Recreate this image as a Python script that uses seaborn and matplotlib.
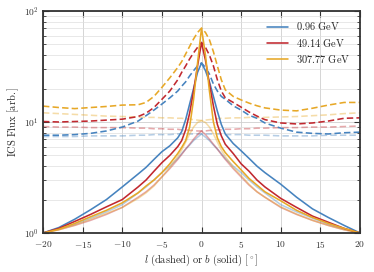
import numpy as np
import pandas as pd
import matplotlib
matplotlib.use("Agg")
import matplotlib.pyplot as plt
import seaborn as sns
from matplotlib.ticker import FixedLocator, FuncFormatter, LogLocator, NullFormatter

# ---- data ----
angle = [-20, -18, -16, -14, -12, -10, -8, -7, -6, -5, -4, -3, -2.5, -2, -1.5, -1, -0.5, 0,
         0.5, 1, 1.5, 2, 2.5, 3, 4, 5, 6, 7, 8, 10, 12, 14, 16, 18, 20]

energies = ["0.96 GeV", "49.14 GeV", "307.77 GeV"]

# dark curves: profile along b (solid)
blue_b = [1.0, 1.12, 1.33, 1.62, 2.0, 2.6, 3.4, 3.9, 4.6, 5.4, 6.1, 7.2, 8.2, 10.5, 14.5, 20, 28, 34,
          29, 23, 17, 12.5, 9.5, 7.8, 6.4, 5.5, 4.7, 4.0, 3.5, 2.75, 2.1, 1.65, 1.38, 1.17, 1.0]
red_b = [1.0, 1.1, 1.27, 1.47, 1.72, 2.0, 2.6, 3.0, 3.6, 4.3, 5.0, 6.0, 6.8, 8.5, 12, 19, 32, 52,
         36, 22, 14, 9.5, 7.5, 6.3, 5.2, 4.2, 3.6, 3.0, 2.6, 2.05, 1.7, 1.42, 1.25, 1.1, 1.0]
gold_b = [1.0, 1.08, 1.22, 1.4, 1.6, 1.87, 2.3, 2.65, 3.0, 3.5, 4.2, 5.2, 5.9, 6.8, 9, 16, 34, 70,
          40, 19, 10, 7.2, 6.0, 5.3, 4.4, 3.7, 3.1, 2.7, 2.35, 1.95, 1.6, 1.38, 1.22, 1.1, 1.0]

# dark curves: profile along l (dashed)
blue_l = [7.6, 7.6, 7.7, 7.9, 8.3, 9.0, 10.2, 11.4, 12.8, 14.5, 16.5, 19, 21, 23, 26, 29, 32, 34,
          31, 27, 22, 19, 17, 16, 14, 12.8, 11.5, 10.8, 9.8, 8.8, 8.1, 7.9, 7.8, 8.0, 8.1]
red_l = [10.1, 10.0, 10.1, 10.2, 10.4, 10.6, 11.2, 12, 13.5, 16, 19, 24, 28, 32, 37, 42, 47, 52,
         47, 40, 32, 24, 19, 16.5, 15, 13.6, 12.3, 11.3, 10.5, 9.8, 9.6, 9.8, 10.2, 10.8, 10.9]
gold_l = [13.9, 13.5, 13.2, 13.5, 13.8, 14.2, 14.3, 15, 17, 20.5, 25, 31, 35, 41, 48, 56, 64, 70,
          64, 55, 43, 32, 24, 19.5, 17, 15.8, 14.8, 14, 13.4, 12.8, 12.6, 13.3, 14.2, 15, 15]

# light (faded) curves: profile along b (solid)
lblue_b = [1.0, 1.09, 1.2, 1.36, 1.55, 1.8, 2.3, 2.6, 3.0, 3.5, 4.0, 4.7, 5.2, 5.7, 6.2, 6.8, 7.3, 7.8,
           7.3, 6.8, 6.2, 5.7, 5.2, 4.7, 4.0, 3.5, 3.0, 2.6, 2.3, 1.8, 1.55, 1.36, 1.2, 1.09, 1.0]
lred_b = [1.0, 1.07, 1.17, 1.3, 1.47, 1.7, 2.1, 2.35, 2.7, 3.2, 3.8, 4.6, 5.1, 5.7, 6.3, 7.0, 7.7, 8.3,
          7.7, 7.0, 6.3, 5.7, 5.1, 4.6, 3.8, 3.2, 2.7, 2.35, 2.1, 1.7, 1.47, 1.3, 1.17, 1.07, 1.0]
lgold_b = [1.0, 1.07, 1.18, 1.33, 1.5, 1.7, 2.05, 2.3, 2.65, 3.2, 3.9, 4.9, 5.6, 6.6, 7.8, 9.0, 9.9, 10.3,
           9.9, 9.0, 7.8, 6.6, 5.6, 4.9, 3.9, 3.3, 2.75, 2.35, 2.1, 1.72, 1.48, 1.3, 1.17, 1.07, 1.0]

# light (faded) curves: profile along l (dashed)
lblue_l = [7.4, 7.4, 7.4, 7.5, 7.5, 7.5, 7.6, 7.6, 7.7, 7.7, 7.7, 7.8, 7.8, 7.8, 7.8, 7.8, 7.8, 7.8,
           7.8, 7.8, 7.8, 7.8, 7.8, 7.7, 7.7, 7.7, 7.6, 7.6, 7.6, 7.5, 7.5, 7.5, 7.6, 7.6, 7.6]
lred_l = [9.1, 9.0, 9.0, 8.9, 8.9, 8.9, 8.8, 8.8, 8.7, 8.7, 8.6, 8.6, 8.5, 8.5, 8.4, 8.4, 8.3, 8.3,
          8.3, 8.4, 8.4, 8.5, 8.5, 8.6, 8.6, 8.7, 8.7, 8.8, 8.8, 8.9, 8.9, 9.0, 9.0, 9.1, 9.2]
lgold_l = [12.1, 11.9, 11.7, 11.5, 11.3, 11.2, 11.1, 11.0, 11.0, 10.9, 10.9, 10.8, 10.8, 10.7, 10.6, 10.5, 10.4, 10.3,
           10.4, 10.5, 10.6, 10.7, 10.8, 10.8, 10.9, 10.9, 11.0, 11.0, 11.0, 11.1, 11.2, 11.4, 11.6, 11.9, 12.1]

x_ticks = [-20, -15, -10, -5, 0, 5, 10, 15, 20]

# ---- style ----
sns.set_style("ticks")
plt.rcParams.update({
    "font.family": ["DejaVu Serif"],
    "mathtext.fontset": "cm",
})

colors = ["#4683bf", "#c1282f", "#e7a827"]

fig = plt.figure(figsize=(3.74, 2.72), dpi=100)
ax = fig.add_axes([0.115, 0.1434, 0.8476, 0.8162])

light_b = [lblue_b, lred_b, lgold_b]
light_l = [lblue_l, lred_l, lgold_l]
dark_b = [blue_b, red_b, gold_b]
dark_l = [blue_l, red_l, gold_l]

lw = 1.15
# faded curves first
for c, yb, yl in zip(colors, light_b, light_l):
    sns.lineplot(x=angle, y=yl, ax=ax, color=c, alpha=0.4, lw=lw, linestyle="--")
    ax.lines[-1].set_dashes([4, 2])
    sns.lineplot(x=angle, y=yb, ax=ax, color=c, alpha=0.4, lw=lw)
for c, yb, yl, lab in zip(colors, dark_b, dark_l, energies):
    sns.lineplot(x=angle, y=yl, ax=ax, color=c, lw=lw, linestyle="--")
    ax.lines[-1].set_dashes([4, 2])
for c, yb, yl, lab in zip(colors, dark_b, dark_l, energies):
    sns.lineplot(x=angle, y=yb, ax=ax, color=c, lw=lw, label=r"$\mathrm{" + lab.replace(" ", r"\ ") + "}$")

ax.set_yscale("log")
ax.set_xlim(-20, 20)
ax.set_ylim(1, 100)
ax.xaxis.set_major_locator(FixedLocator(x_ticks))
ax.xaxis.set_major_formatter(FuncFormatter(lambda v, p: f"${v:g}$"))
ax.yaxis.set_major_locator(LogLocator(base=10, numticks=5))
ax.yaxis.set_minor_locator(LogLocator(base=10, subs=np.arange(2, 10), numticks=20))
ax.yaxis.set_major_formatter(FuncFormatter(lambda v, p: f"$10^{{{int(round(np.log10(v)))}}}$"))
ax.yaxis.set_minor_formatter(NullFormatter())

ax.grid(True, which="major", color="#cfcfcf", lw=0.6)
ax.grid(True, which="minor", axis="y", color="#dedede", lw=0.5)
ax.set_axisbelow(True)

ax.tick_params(which="both", direction="in", top=True, right=True, labelsize=6.8, colors="#333333")
ax.tick_params(axis="x", pad=4.5)
ax.tick_params(axis="y", pad=3)
ax.tick_params(which="major", length=4, width=0.8)
ax.tick_params(which="minor", length=2, width=0.6)
for s in ax.spines.values():
    s.set_color("#333333")
    s.set_linewidth(1.3)

ax.set_xlabel(r"$l\ \mathrm{(dashed)\ or}\ b\ \mathrm{(solid)}\ [^\circ]$", fontsize=7.5, labelpad=1.5)
ax.set_ylabel(r"$\mathrm{ICS\ Flux\ [arb.]}$", fontsize=7.5, labelpad=2)

leg = ax.legend(loc="upper right", frameon=False, fontsize=7.5, handlelength=2.0,
                borderaxespad=0.5, labelspacing=0.4)

fig.savefig("out.png", dpi=100)
